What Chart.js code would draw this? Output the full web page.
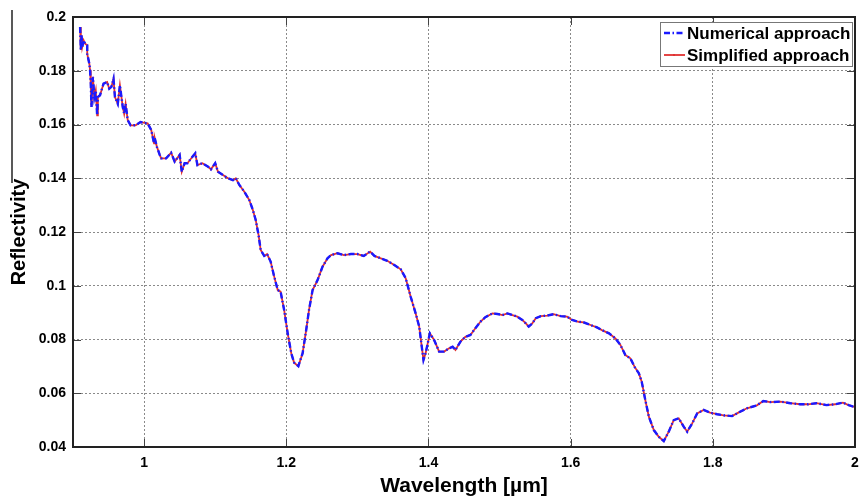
<!DOCTYPE html>
<html>
<head>
<meta charset="utf-8">
<script src="https://cdn.jsdelivr.net/npm/chart.js@4.4.1/dist/chart.umd.min.js"></script>
<style>
  html, body { margin: 0; padding: 0; background: #fff; }
</style>
</head>
<body>
<canvas id="grafico" width="867" height="502"></canvas>
<script>
// wavelength in µm
const wavelength = [
  0.910, 0.911, 0.912, 0.913, 0.915, 0.917, 0.920, 0.920, 0.923, 0.924,
  0.925, 0.926, 0.928, 0.930, 0.932, 0.934, 0.935, 0.938, 0.943, 0.948,
  0.951, 0.954, 0.957, 0.959, 0.963, 0.966, 0.970, 0.972, 0.974, 0.977,
  0.981, 0.988, 0.995, 1.005, 1.010, 1.014, 1.015, 1.018, 1.022, 1.024,
  1.031, 1.038, 1.043, 1.050, 1.053, 1.057, 1.061, 1.068, 1.072, 1.075,
  1.082, 1.090, 1.094, 1.100, 1.104, 1.111, 1.118, 1.125, 1.129, 1.134,
  1.141, 1.148, 1.153, 1.157, 1.161, 1.164, 1.169, 1.173, 1.178, 1.183,
  1.188, 1.192, 1.197, 1.202, 1.207, 1.211, 1.217, 1.223, 1.228, 1.232,
  1.237, 1.244, 1.251, 1.258, 1.263, 1.272, 1.281, 1.291, 1.300, 1.309,
  1.318, 1.324, 1.333, 1.342, 1.352, 1.361, 1.368, 1.375, 1.382, 1.387,
  1.390, 1.393, 1.396, 1.402, 1.408, 1.415, 1.422, 1.429, 1.434, 1.438,
  1.445, 1.452, 1.459, 1.466, 1.473, 1.480, 1.490, 1.497, 1.504, 1.511,
  1.518, 1.525, 1.532, 1.537, 1.541, 1.546, 1.551, 1.558, 1.567, 1.576,
  1.586, 1.595, 1.602, 1.611, 1.618, 1.628, 1.637, 1.644, 1.654, 1.663,
  1.670, 1.677, 1.684, 1.690, 1.696, 1.700, 1.705, 1.710, 1.717, 1.724,
  1.731, 1.738, 1.745, 1.752, 1.759, 1.764, 1.771, 1.778, 1.787, 1.796,
  1.806, 1.815, 1.827, 1.836, 1.848, 1.862, 1.871, 1.881, 1.895, 1.909,
  1.923, 1.934, 1.946, 1.960, 1.972, 1.983, 1.991, 2.000
]

// Numerical approach
const numerical = [
  0.1963, 0.1877, 0.1932, 0.1888, 0.1913, 0.1901, 0.1895, 0.1863, 0.1826, 0.1802,
  0.1752, 0.1665, 0.1777, 0.1702, 0.1727, 0.1634, 0.1702, 0.1709, 0.1752, 0.1758,
  0.1733, 0.1740, 0.1770, 0.1702, 0.1677, 0.1746, 0.1665, 0.1640, 0.1677, 0.1616,
  0.1597, 0.1597, 0.1609, 0.1604, 0.1580, 0.1530, 0.1549, 0.1517, 0.1487, 0.1474,
  0.1474, 0.1495, 0.1462, 0.1487, 0.1424, 0.1456, 0.1456, 0.1480, 0.1493, 0.1449,
  0.1456, 0.1443, 0.1433, 0.1456, 0.1424, 0.1412, 0.1400, 0.1393, 0.1400, 0.1375,
  0.1350, 0.1319, 0.1282, 0.1245, 0.1189, 0.1133, 0.1111, 0.1118, 0.1090, 0.1034,
  0.0984, 0.0978, 0.0910, 0.0823, 0.0749, 0.0714, 0.0701, 0.0749, 0.0835, 0.0910,
  0.0984, 0.1021, 0.1071, 0.1102, 0.1114, 0.1121, 0.1114, 0.1118, 0.1118, 0.1111,
  0.1127, 0.1111, 0.1102, 0.1093, 0.1077, 0.1061, 0.1028, 0.0959, 0.0897, 0.0848,
  0.0786, 0.0724, 0.0749, 0.0823, 0.0798, 0.0755, 0.0755, 0.0767, 0.0773, 0.0761,
  0.0792, 0.0810, 0.0817, 0.0842, 0.0866, 0.0883, 0.0897, 0.0895, 0.0891, 0.0897,
  0.0891, 0.0885, 0.0873, 0.0860, 0.0848, 0.0860, 0.0879, 0.0887, 0.0889, 0.0894,
  0.0887, 0.0885, 0.0873, 0.0866, 0.0864, 0.0854, 0.0845, 0.0835, 0.0823, 0.0804,
  0.0780, 0.0742, 0.0730, 0.0698, 0.0674, 0.0643, 0.0575, 0.0513, 0.0463, 0.0438,
  0.0422, 0.0457, 0.0500, 0.0507, 0.0476, 0.0457, 0.0488, 0.0525, 0.0538, 0.0528,
  0.0522, 0.0518, 0.0515, 0.0528, 0.0544, 0.0555, 0.0571, 0.0567, 0.0569, 0.0563,
  0.0559, 0.0559, 0.0563, 0.0556, 0.0559, 0.0565, 0.0556, 0.0548
]

// Simplified approach (lies on top of the numerical one in the picture)
const simplified = [
  0.1963, 0.1877, 0.1932, 0.1888, 0.1913, 0.1901, 0.1895, 0.1863, 0.1826, 0.1802,
  0.1752, 0.1665, 0.1777, 0.1702, 0.1727, 0.1634, 0.1702, 0.1709, 0.1752, 0.1758,
  0.1733, 0.1740, 0.1770, 0.1702, 0.1677, 0.1746, 0.1665, 0.1640, 0.1677, 0.1616,
  0.1597, 0.1597, 0.1609, 0.1604, 0.1580, 0.1530, 0.1549, 0.1517, 0.1487, 0.1474,
  0.1474, 0.1495, 0.1462, 0.1487, 0.1424, 0.1456, 0.1456, 0.1480, 0.1493, 0.1449,
  0.1456, 0.1443, 0.1433, 0.1456, 0.1424, 0.1412, 0.1400, 0.1393, 0.1400, 0.1375,
  0.1350, 0.1319, 0.1282, 0.1245, 0.1189, 0.1133, 0.1111, 0.1118, 0.1090, 0.1034,
  0.0984, 0.0978, 0.0910, 0.0823, 0.0749, 0.0714, 0.0701, 0.0749, 0.0835, 0.0910,
  0.0984, 0.1021, 0.1071, 0.1102, 0.1114, 0.1121, 0.1114, 0.1118, 0.1118, 0.1111,
  0.1127, 0.1111, 0.1102, 0.1093, 0.1077, 0.1061, 0.1028, 0.0959, 0.0897, 0.0848,
  0.0786, 0.0724, 0.0749, 0.0823, 0.0798, 0.0755, 0.0755, 0.0767, 0.0773, 0.0761,
  0.0792, 0.0810, 0.0817, 0.0842, 0.0866, 0.0883, 0.0897, 0.0895, 0.0891, 0.0897,
  0.0891, 0.0885, 0.0873, 0.0860, 0.0848, 0.0860, 0.0879, 0.0887, 0.0889, 0.0894,
  0.0887, 0.0885, 0.0873, 0.0866, 0.0864, 0.0854, 0.0845, 0.0835, 0.0823, 0.0804,
  0.0780, 0.0742, 0.0730, 0.0698, 0.0674, 0.0643, 0.0575, 0.0513, 0.0463, 0.0438,
  0.0422, 0.0457, 0.0500, 0.0507, 0.0476, 0.0457, 0.0488, 0.0525, 0.0538, 0.0528,
  0.0522, 0.0518, 0.0515, 0.0528, 0.0544, 0.0555, 0.0571, 0.0567, 0.0569, 0.0563,
  0.0559, 0.0559, 0.0563, 0.0556, 0.0559, 0.0565, 0.0556, 0.0548
]

const xTicks = [1, 1.2, 1.4, 1.6, 1.8, 2]
const yTicks = [0.04, 0.06, 0.08, 0.1, 0.12, 0.14, 0.16, 0.18, 0.2]

const fonte = "'Liberation Sans', Arial, sans-serif"
const blueDash = [6, 2.5, 1.5, 2.5]

// frame, inner tick marks and legend box in the upper right corner
const moldura = {
    id: 'moldura',
    afterDraw(chart) {
        const {ctx, chartArea: a, scales} = chart
        ctx.save()

        // inner ticks (matlab style)
        ctx.strokeStyle = '#444'
        ctx.lineWidth = 1
        ctx.beginPath()
        yTicks.forEach(v => {
            const py = Math.round(scales.y.getPixelForValue(v)) + 0.5
            ctx.moveTo(a.left, py); ctx.lineTo(a.left + 8, py)
            ctx.moveTo(a.right, py); ctx.lineTo(a.right - 8, py)
        })
        xTicks.forEach(v => {
            const px = Math.round(scales.x.getPixelForValue(v)) + 0.5
            ctx.moveTo(px, a.bottom); ctx.lineTo(px, a.bottom - 8)
            ctx.moveTo(px, a.top); ctx.lineTo(px, a.top + 8)
        })
        ctx.stroke()

        ctx.strokeStyle = '#222'
        ctx.lineWidth = 2
        ctx.strokeRect(a.left, a.top, a.right - a.left, a.bottom - a.top)

        // stray figure edge on the far left
        ctx.lineWidth = 1.5
        ctx.beginPath()
        ctx.moveTo(12, 10); ctx.lineTo(12, 183)
        ctx.stroke()

        // legend
        const bx = a.right - 195, by = a.top + 5, bw = 192, bh = 44
        ctx.fillStyle = '#fff'
        ctx.fillRect(bx, by, bw, bh)
        ctx.strokeStyle = '#777'
        ctx.lineWidth = 1
        ctx.strokeRect(bx + 0.5, by + 0.5, bw, bh)

        ctx.font = "bold 17px " + fonte
        ctx.textBaseline = 'middle'
        chart.data.datasets.forEach((ds, i) => {
            const yy = by + 11 + i * 22
            ctx.beginPath()
            ctx.strokeStyle = ds.borderColor
            ctx.lineWidth = ds.borderWidth
            ctx.setLineDash(ds.borderDash || [])
            ctx.moveTo(bx + 4, yy)
            ctx.lineTo(bx + 25, yy)
            ctx.stroke()
            ctx.setLineDash([])
            if (i == 1) {
                ctx.fillStyle = ds.borderColor
                ctx.fillRect(bx + 13, yy - 1, 2, 2)
            }
            ctx.fillStyle = '#000'
            ctx.fillText(ds.label, bx + 27, yy + 1)
        })
        ctx.restore()
    }
}

const toPoints = vals => vals.map((v, i) => ({x: wavelength[i], y: v}))

const config = {
    type: 'line',
    data: {
        datasets: [{
            label: 'Numerical approach',
            data: toPoints(numerical),
            borderColor: '#1a1aff',
            borderWidth: 2.4,
            borderDash: blueDash,
            pointRadius: 0,
            tension: 0
        }, {
            label: 'Simplified approach',
            data: toPoints(simplified),
            borderColor: '#e03030',
            borderWidth: 1.8,
            pointRadius: 0,
            tension: 0
        }]
    },
    options: {
        responsive: false,
        animation: false,
        layout: {
            padding: {top: 17, right: 12, left: 0, bottom: 0}
        },
        plugins: {
            legend: {display: false},
            tooltip: {enabled: false}
        },
        scales: {
            x: {
                type: 'linear',
                min: 0.9,
                max: 2,
                afterBuildTicks: axis => { axis.ticks = xTicks.map(v => ({value: v})) },
                afterFit: s => { s.height = 55 },
                grid: {color: '#8a8a8a', lineWidth: 1, drawTicks: false},
                border: {display: false, dash: [2, 2]},
                ticks: {
                    color: '#000',
                    padding: 8,
                    maxRotation: 0,
                    font: {family: fonte, size: 14, weight: 'bold'},
                    callback: v => String(Number(v.toFixed(2)))
                },
                title: {
                    display: true,
                    text: 'Wavelength [µm]',
                    color: '#000',
                    padding: {top: 0, bottom: 3},
                    font: {family: fonte, size: 21, weight: 'bold'}
                }
            },
            y: {
                min: 0.04,
                max: 0.2,
                afterBuildTicks: axis => { axis.ticks = yTicks.map(v => ({value: v})) },
                afterFit: s => { s.width = 73 },
                grid: {color: '#8a8a8a', lineWidth: 1, drawTicks: false},
                border: {display: false, dash: [2, 2]},
                ticks: {
                    color: '#000',
                    padding: 7,
                    font: {family: fonte, size: 14, weight: 'bold'},
                    callback: v => String(Number(v.toFixed(2)))
                },
                title: {
                    display: true,
                    text: 'Reflectivity',
                    color: '#000',
                    padding: {top: 7, bottom: 0},
                    font: {family: fonte, size: 20, weight: 'bold'}
                }
            }
        }
    },
    plugins: [moldura]
}

// RENDER
const grafico = new Chart(document.getElementById('grafico'), config)
</script>
</body>
</html>
